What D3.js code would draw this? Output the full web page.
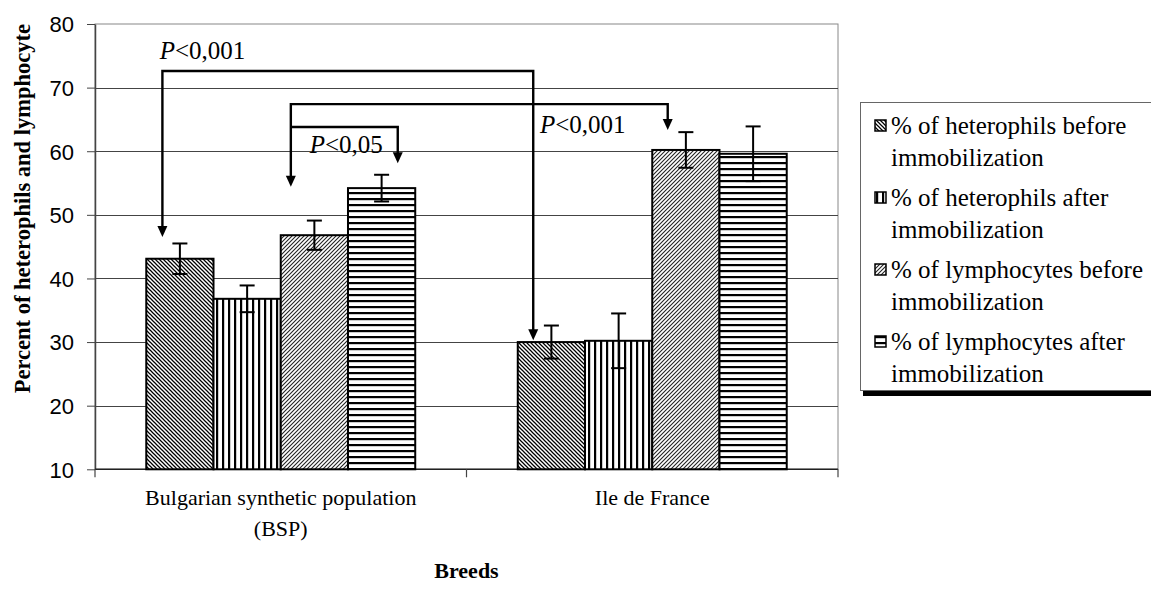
<!DOCTYPE html>
<html>
<head>
<meta charset="utf-8">
<script src="https://cdn.jsdelivr.net/npm/d3@7/dist/d3.min.js"></script>
<style>
  html, body { margin: 0; padding: 0; background: #fff; }
  svg { display: block; }
</style>
</head>
<body>
<svg id="chart" width="1151" height="596"></svg>
<script>
// ---------- DATA ----------
const categories = ["Bulgarian synthetic population (BSP)", "Ile de France"];
const categoryLines = [["Bulgarian synthetic population", "(BSP)"], ["Ile de France"]];
const seriesNames = [
  "% of heterophils before immobilization",
  "% of heterophils after immobilization",
  "% of lymphocytes before immobilization",
  "% of lymphocytes after immobilization"
];
const legendLines = [
  ["% of heterophils before", "immobilization"],
  ["% of heterophils after", "immobilization"],
  ["% of lymphocytes before", "immobilization"],
  ["% of lymphocytes after", "immobilization"]
];
// values[series][category]
const heterophilsBefore = [43.1, 30.0];
const heterophilsAfter  = [36.8, 30.2];
const lymphocytesBefore = [46.8, 60.2];
const lymphocytesAfter  = [54.2, 59.6];
const errHeterophilsBefore = [2.4, 2.6];
const errHeterophilsAfter  = [2.1, 4.3];
const errLymphocytesBefore = [2.3, 2.8];
const errLymphocytesAfter  = [2.1, 4.3];
const yTicks = [10, 20, 30, 40, 50, 60, 70, 80];
const yTitle = "Percent of heterophils and lymphocyte";
const xTitle = "Breeds";
// significance brackets: arrow ends (category, series, tip value), bracket level value
const brackets = [
  { from: [0, 0, 46.5], to: [1, 0, 30.3], level: 72.6 },
  { from: [0, 2, 54.4], to: [1, 2, 63.35], level: 67.4 },
  { from: [0, 2, null], to: [0, 3, 58.1], level: 63.8 }
];
const pLabels = [
  { cat: 0, series: 0, value: 74.45, text: "0,001" },
  { cat: 1, series: 0, value: 62.9, text: "0,001" },
  { cat: 0, series: 2, value: 59.7, text: "0,05" }
];

// ---------- LAYOUT ----------
const SERIF = "'Liberation Serif', 'Times New Roman', Times, serif";
const SANS = "'Liberation Sans', Arial, sans-serif";
const values = [heterophilsBefore, heterophilsAfter, lymphocytesBefore, lymphocytesAfter];
const errors = [errHeterophilsBefore, errHeterophilsAfter, errLymphocytesBefore, errLymphocytesAfter];
const arrowOffsets = [[0.24, 0.23], [null, null], [0.15, 0.23], [0.74, null]]; // fraction within bar
const labelOffsets = [0.2, 0.33, 0.43];

const svg = d3.select("#chart");
const plot = { left: 95, right: 838, top: 24, bottom: 469.3 };

const x0 = d3.scaleBand().domain(d3.range(categories.length))
  .range([plot.left, plot.right]).paddingInner(0.276).paddingOuter(0.138);
const x1 = d3.scaleBand().domain(d3.range(seriesNames.length))
  .range([0, x0.bandwidth()]).padding(0);
const y = d3.scaleLinear().domain([10, 80]).range([plot.bottom, plot.top]);

// ---------- PATTERNS ----------
const defs = svg.append("defs");
function pat(id, w, h, draw) {
  const p = defs.append("pattern").attr("id", id)
    .attr("patternUnits", "userSpaceOnUse").attr("width", w).attr("height", h);
  p.append("rect").attr("width", w).attr("height", h).attr("fill", "#fff");
  draw(p);
}
pat("p0", 4, 4, p => p.append("path")
  .attr("d", "M-1,-1L5,5M3,-1L5,1M-1,3L1,5")
  .attr("stroke", "#000").attr("stroke-width", 1.25));
pat("p1", 6, 6, p => p.append("rect").attr("x", 0).attr("width", 2.2).attr("height", 6).attr("fill", "#000"));
pat("p2", 4, 4, p => p.append("path")
  .attr("d", "M-1,5L5,-1M-1,1L1,-1M3,5L5,3")
  .attr("stroke", "#222").attr("stroke-width", 1.1));
pat("p3", 6, 6, p => p.append("rect").attr("y", 0).attr("width", 6).attr("height", 2.2).attr("fill", "#000"));

// ---------- GRID & AXES ----------
svg.append("rect").attr("x", plot.left).attr("y", plot.top)
  .attr("width", plot.right - plot.left).attr("height", plot.bottom - plot.top)
  .attr("fill", "#fff").attr("stroke", "#888").attr("stroke-width", 1);

svg.append("g").selectAll("line").data(yTicks.filter(t => t > 10 && t < 80)).join("line")
  .attr("x1", plot.left).attr("x2", plot.right)
  .attr("y1", d => Math.round(y(d)) + 0.5).attr("y2", d => Math.round(y(d)) + 0.5)
  .attr("stroke", "#444").attr("stroke-width", 1);

const yAxis = svg.append("g").attr("transform", `translate(${plot.left},0)`)
  .call(d3.axisLeft(y).tickValues(yTicks).tickSize(8).tickPadding(13).tickSizeOuter(0));
yAxis.attr("font-family", null).attr("font-size", null);
yAxis.select(".domain").attr("stroke", "#444").attr("stroke-width", 1.5);
yAxis.selectAll(".tick line").attr("stroke", "#444");
yAxis.selectAll(".tick text").style("font-family", SANS)
  .style("font-size", "22px").attr("fill", "#000").attr("dy", "0.36em");

// x axis line + ticks at category boundaries
svg.append("line").attr("x1", plot.left).attr("x2", plot.right)
  .attr("y1", plot.bottom).attr("y2", plot.bottom).attr("stroke", "#222").attr("stroke-width", 1.5);
const bounds = [plot.left, ...d3.range(1, categories.length).map(i => x0(i) - x0.step() * x0.paddingInner() / 2), plot.right];
svg.append("g").selectAll("line").data(bounds).join("line")
  .attr("x1", d => d).attr("x2", d => d)
  .attr("y1", plot.bottom).attr("y2", plot.bottom + 8)
  .attr("stroke", "#444").attr("stroke-width", 1.2);

// ---------- BARS ----------
const barData = [];
values.forEach((vals, s) => vals.forEach((v, c) => barData.push({ s, c, v, e: errors[s][c] })));
svg.append("g").selectAll("rect").data(barData).join("rect")
  .attr("x", d => x0(d.c) + x1(d.s))
  .attr("y", d => y(d.v))
  .attr("width", x1.bandwidth())
  .attr("height", d => y(10) - y(d.v))
  .attr("fill", d => `url(#p${d.s})`)
  .attr("stroke", "#000").attr("stroke-width", 2);

// error bars
const eg = svg.append("g").attr("stroke", "#000").attr("stroke-width", 2);
barData.forEach(d => {
  const cx = x0(d.c) + x1(d.s) + x1.bandwidth() / 2;
  eg.append("line").attr("x1", cx).attr("x2", cx).attr("y1", y(d.v + d.e)).attr("y2", y(d.v - d.e));
  eg.append("line").attr("x1", cx - 7.5).attr("x2", cx + 7.5).attr("y1", y(d.v + d.e)).attr("y2", y(d.v + d.e));
  eg.append("line").attr("x1", cx - 7.5).attr("x2", cx + 7.5).attr("y1", y(d.v - d.e)).attr("y2", y(d.v - d.e));
});

// ---------- BRACKETS ----------
const ag = svg.append("g");
function ax(c, s) { return x0(c) + x1(s) + arrowOffsets[s][c] * x1.bandwidth(); }
function arrowHead(xp, tipY) {
  ag.append("path").attr("d", `M${xp - 5},${tipY - 11}L${xp + 5},${tipY - 11}L${xp},${tipY}Z`).attr("fill", "#000");
}
brackets.forEach(b => {
  const xa = ax(b.from[0], b.from[1]);
  const xb = ax(b.to[0], b.to[1]);
  const ly = y(b.level);
  const d = `M${xa},${b.from[2] != null ? y(b.from[2]) - 9 : ly}L${xa},${ly}L${xb},${ly}L${xb},${y(b.to[2]) - 9}`;
  ag.append("path").attr("d", d).attr("fill", "none").attr("stroke", "#000").attr("stroke-width", 2.4);
  if (b.from[2] != null) arrowHead(xa, y(b.from[2]));
  arrowHead(xb, y(b.to[2]));
});

pLabels.forEach((l, i) => {
  const t = svg.append("text")
    .attr("x", x0(l.cat) + x1(l.series) + labelOffsets[i] * x1.bandwidth())
    .attr("y", y(l.value))
    .style("font-family", SERIF).style("font-size", "25px").attr("fill", "#000");
  t.append("tspan").style("font-style", "italic").text("P");
  t.append("tspan").text("<" + l.text);
});

// ---------- CATEGORY LABELS ----------
categoryLines.forEach((lines, c) => {
  lines.forEach((ln, k) => {
    svg.append("text").attr("x", x0(c) + x0.bandwidth() / 2).attr("y", 505 + k * 31)
      .attr("text-anchor", "middle")
      .style("font-family", SERIF).style("font-size", "22px").attr("fill", "#000").text(ln);
  });
});

svg.append("text").attr("x", (plot.left + plot.right) / 2).attr("y", 578)
  .attr("text-anchor", "middle")
  .style("font-family", SERIF).style("font-weight", "bold").style("font-size", "22px").text(xTitle);

svg.append("text").attr("transform", `translate(30,${(plot.top + plot.bottom) / 2 - 38}) rotate(-90)`)
  .attr("text-anchor", "middle")
  .style("font-family", SERIF).style("font-weight", "bold").style("font-size", "22.5px").text(yTitle);

// ---------- LEGEND ----------
const lg = svg.append("g");
lg.append("rect").attr("x", 863).attr("y", 390).attr("width", 300).attr("height", 6).attr("fill", "#000");
lg.append("rect").attr("x", 860.5).attr("y", 102.5).attr("width", 300).attr("height", 288)
  .attr("fill", "#fff").attr("stroke", "#666").attr("stroke-width", 1);
legendLines.forEach((lines, s) => {
  const base = 134 + s * 72;
  lg.append("rect").attr("x", 875).attr("y", base - 14).attr("width", 11).attr("height", 11)
    .attr("fill", `url(#p${s})`).attr("stroke", "#000").attr("stroke-width", 1.5);
  lines.forEach((ln, k) => {
    lg.append("text").attr("x", 891).attr("y", base + k * 32)
      .style("font-family", SERIF).style("font-size", "25px").attr("fill", "#000").text(ln);
  });
});
</script>
</body>
</html>
